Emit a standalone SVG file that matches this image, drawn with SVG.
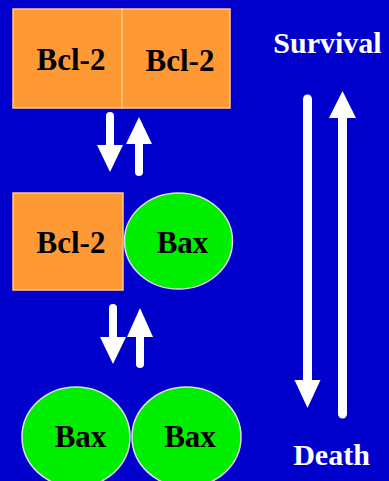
<svg xmlns="http://www.w3.org/2000/svg" width="389" height="481" viewBox="0 0 389 481">
<style>
.box{fill:#ff9933;stroke:#ffc58a;stroke-width:1.5}
.bax{fill:#00ee00;stroke:#e0e0e0;stroke-width:1.5}
.lbl{font-family:"Liberation Serif","Times New Roman",serif;font-weight:bold;font-size:31px;text-anchor:middle;fill:#000}
.side{font-family:"Liberation Serif","Times New Roman",serif;font-weight:bold;font-size:30px;text-anchor:middle;fill:#fff}
.shaft{stroke:#fff;stroke-linecap:round;fill:none}
.head{fill:#fff}
</style>
<rect width="389" height="481" fill="#0000cc"/>
<g id="top-bcl2-left"><rect class="box" x="13" y="9" width="109" height="99"/><text class="lbl" x="71" y="70">Bcl-2</text></g>
<g id="top-bcl2-right"><rect class="box" x="122" y="9" width="108" height="99"/><text class="lbl" x="180" y="71">Bcl-2</text></g>
<g id="mid-bcl2"><rect class="box" x="13" y="193" width="110" height="97"/><text class="lbl" x="71" y="253">Bcl-2</text></g>
<g id="mid-bax"><ellipse class="bax" cx="178.5" cy="241" rx="54" ry="48"/><text class="lbl" x="182.5" y="253">Bax</text></g>
<g id="bot-bax-left"><ellipse class="bax" cx="76" cy="437" rx="54" ry="50"/><text class="lbl" x="80.5" y="447">Bax</text></g>
<g id="bot-bax-right"><ellipse class="bax" cx="186.5" cy="437" rx="54.5" ry="50"/><text class="lbl" x="190" y="447">Bax</text></g>
<g id="survival"><text class="side" x="327.5" y="53">Survival</text></g>
<g id="death"><text class="side" x="331.5" y="465">Death</text></g>
<g id="connectors">
<line class="shaft" x1="110" y1="116" x2="110" y2="148" stroke-width="8"/>
<polygon class="head" points="97,145 123,145 110,172"/>
<line class="shaft" x1="139" y1="172" x2="139" y2="140" stroke-width="8"/>
<polygon class="head" points="126,144 152,144 139,117"/>
<line class="shaft" x1="113" y1="308" x2="113" y2="340" stroke-width="8"/>
<polygon class="head" points="100,337 126,337 113,364"/>
<line class="shaft" x1="140" y1="364" x2="140" y2="333" stroke-width="8"/>
<polygon class="head" points="127,337 153,337 140,308"/>
<line class="shaft" x1="307.5" y1="99" x2="307.5" y2="384" stroke-width="9"/>
<polygon class="head" points="294.5,380 320.5,380 307.5,408"/>
<line class="shaft" x1="342.5" y1="414" x2="342.5" y2="114" stroke-width="9"/>
<polygon class="head" points="329,118 356,118 342.5,91"/>
</g>
</svg>
